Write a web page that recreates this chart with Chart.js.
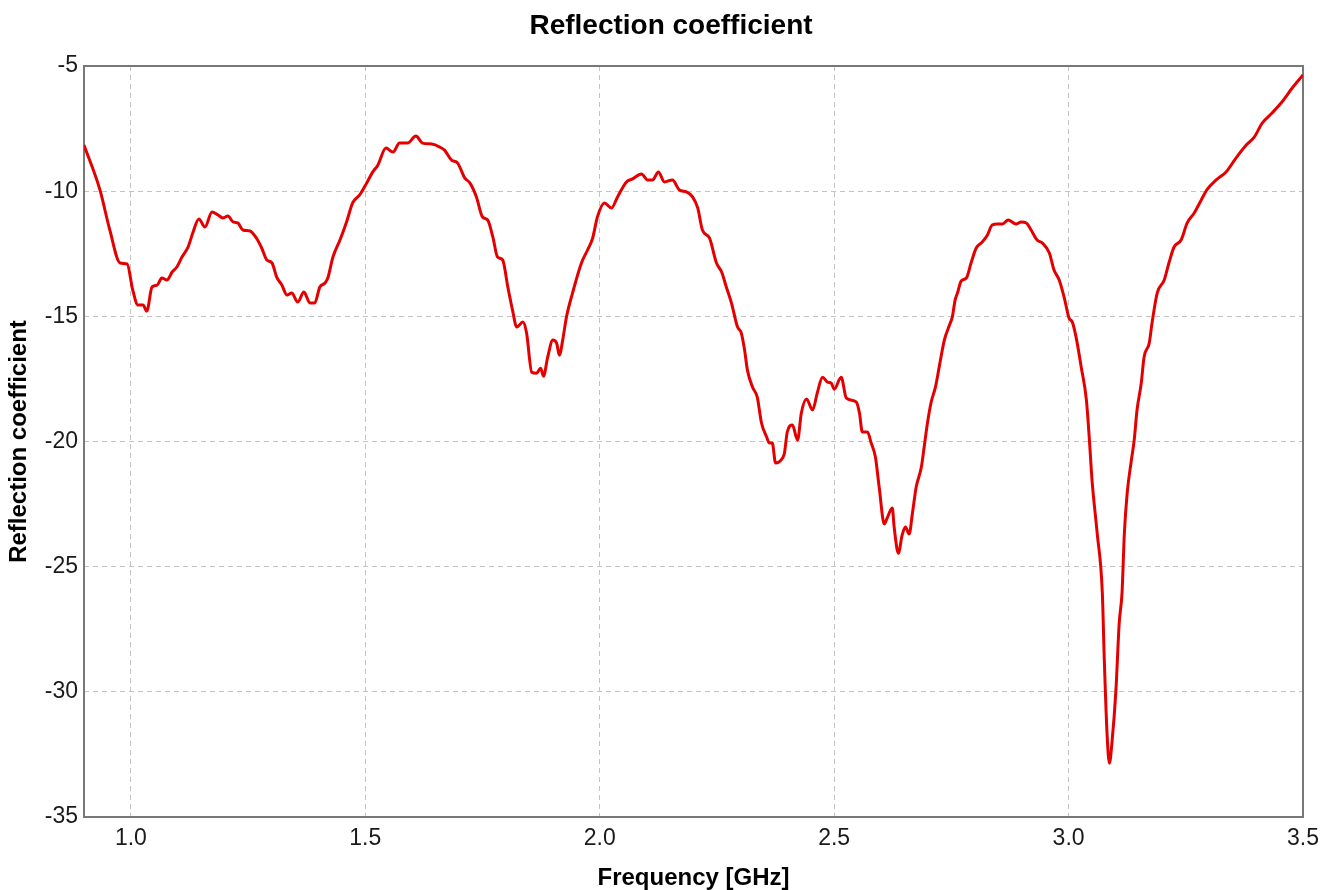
<!DOCTYPE html>
<html>
<head>
<meta charset="utf-8">
<script src="https://cdn.jsdelivr.net/npm/chart.js@4/dist/chart.umd.min.js"></script>
<style>
  html, body { margin: 0; padding: 0; background: #ffffff; }
  #wrap { width: 1324px; height: 890px; position: relative; }
</style>
</head>
<body>
<div id="wrap"><canvas id="c"></canvas></div>
<script>
// ---- Data ----
const freqGHz = [
  0.900, 0.934, 0.955, 0.977, 0.992, 1.004, 1.015, 1.026, 1.034, 1.045,
  1.056, 1.066, 1.077, 1.088, 1.098, 1.109, 1.122, 1.132, 1.145, 1.158,
  1.173, 1.186, 1.196, 1.207, 1.218, 1.228, 1.239, 1.254, 1.269, 1.279,
  1.290, 1.301, 1.311, 1.322, 1.333, 1.343, 1.356, 1.369, 1.382, 1.392,
  1.403, 1.414, 1.420, 1.431, 1.446, 1.460, 1.473, 1.488, 1.503, 1.516,
  1.527, 1.544, 1.559, 1.573, 1.590, 1.608, 1.622, 1.642, 1.659, 1.669,
  1.684, 1.697, 1.712, 1.723, 1.737, 1.750, 1.761, 1.772, 1.782, 1.793,
  1.804, 1.814, 1.823, 1.836, 1.844, 1.855, 1.865, 1.874, 1.880, 1.889,
  1.900, 1.908, 1.914, 1.921, 1.929, 1.942, 1.961, 1.974, 1.985, 1.995,
  2.010, 2.025, 2.038, 2.057, 2.070, 2.089, 2.102, 2.113, 2.125, 2.138,
  2.155, 2.170, 2.185, 2.198, 2.209, 2.219, 2.234, 2.249, 2.260, 2.270,
  2.281, 2.294, 2.302, 2.309, 2.315, 2.326, 2.336, 2.345, 2.356, 2.362,
  2.368, 2.375, 2.390, 2.394, 2.400, 2.411, 2.419, 2.422, 2.430, 2.441,
  2.454, 2.464, 2.475, 2.486, 2.494, 2.500, 2.515, 2.526, 2.547, 2.554,
  2.560, 2.571, 2.579, 2.588, 2.596, 2.607, 2.613, 2.624, 2.628, 2.637,
  2.645, 2.652, 2.660, 2.667, 2.675, 2.686, 2.692, 2.699, 2.707, 2.716,
  2.724, 2.735, 2.746, 2.752, 2.758, 2.763, 2.771, 2.782, 2.792, 2.803,
  2.816, 2.827, 2.837, 2.848, 2.859, 2.871, 2.888, 2.899, 2.910, 2.920,
  2.933, 2.944, 2.959, 2.969, 2.980, 2.991, 3.001, 3.008, 3.016, 3.027,
  3.038, 3.044, 3.050, 3.061, 3.072, 3.076, 3.082, 3.087, 3.093, 3.101,
  3.108, 3.114, 3.119, 3.125, 3.134, 3.140, 3.146, 3.155, 3.161, 3.172,
  3.178, 3.189, 3.204, 3.214, 3.225, 3.240, 3.253, 3.268, 3.283, 3.295,
  3.315, 3.336, 3.357, 3.379, 3.396, 3.413, 3.434, 3.455, 3.477, 3.500
];
const reflectionDb = [
  -8.16, -9.95, -11.55, -12.87, -12.91, -13.95, -14.55, -14.55, -14.79, -13.83,
  -13.75, -13.47, -13.55, -13.23, -13.03, -12.63, -12.23, -11.67, -11.11, -11.43,
  -10.83, -10.95, -11.07, -10.99, -11.23, -11.27, -11.55, -11.59, -11.91, -12.27,
  -12.75, -12.87, -13.43, -13.75, -14.15, -14.07, -14.43, -14.03, -14.47, -14.47,
  -13.83, -13.67, -13.47, -12.63, -11.95, -11.23, -10.47, -10.15, -9.67, -9.23,
  -8.95, -8.28, -8.44, -8.08, -8.08, -7.80, -8.08, -8.12, -8.24, -8.36,
  -8.76, -8.88, -9.47, -9.67, -10.23, -11.03, -11.15, -11.83, -12.63, -12.75,
  -13.83, -14.75, -15.43, -15.23, -15.67, -17.23, -17.27, -17.07, -17.39, -16.63,
  -15.95, -16.07, -16.55, -15.95, -15.03, -14.07, -12.87, -12.35, -11.87, -11.03,
  -10.47, -10.67, -10.23, -9.63, -9.51, -9.31, -9.55, -9.55, -9.23, -9.63,
  -9.55, -9.95, -10.03, -10.23, -10.67, -11.55, -11.87, -12.87, -13.23, -13.83,
  -14.47, -15.43, -15.67, -16.35, -17.15, -17.83, -18.23, -19.26, -19.82, -20.06,
  -20.06, -20.86, -20.66, -20.46, -19.62, -19.34, -19.82, -19.94, -18.86, -18.30,
  -18.74, -18.06, -17.43, -17.63, -17.67, -17.91, -17.43, -18.27, -18.42, -18.86,
  -19.62, -19.62, -20.06, -20.62, -21.82, -23.30, -23.06, -22.66, -23.42, -24.46,
  -23.74, -23.42, -23.70, -22.86, -21.82, -21.02, -20.22, -19.26, -18.42, -17.83,
  -17.03, -15.95, -15.35, -15.03, -14.35, -14.07, -13.59, -13.47, -12.87, -12.27,
  -12.03, -11.75, -11.35, -11.31, -11.31, -11.15, -11.31, -11.23, -11.27, -11.55,
  -11.95, -12.07, -12.47, -13.15, -13.55, -14.27, -15.07, -15.23, -15.83, -17.03,
  -18.34, -19.82, -21.54, -23.66, -26.05, -28.61, -31.65, -32.85, -31.93, -29.93,
  -27.25, -26.05, -23.66, -22.06, -20.74, -19.94, -18.74, -17.67, -16.63, -16.07,
  -15.27, -14.07, -13.55, -12.87, -12.23, -11.95, -11.27, -10.87, -10.35, -9.95,
  -9.55, -9.23, -8.68, -8.16, -7.84, -7.28, -6.88, -6.44, -5.88, -5.36
];
const xTickValues = [1.0, 1.5, 2.0, 2.5, 3.0, 3.5];
const yTickValues = [-35, -30, -25, -20, -15, -10, -5];
const xRange = [0.9, 3.5];
const yRange = [-35, -5];
const chartTitle = 'Reflection coefficient';
const xAxisTitle = 'Frequency [GHz]';
const yAxisTitle = 'Reflection coefficient';

// ---- Chart ----
const FONT = '"Liberation Sans", Arial, Helvetica, sans-serif';
const points = freqGHz.map((f, i) => ({ x: f, y: reflectionDb[i] }));

const framePlugin = {
  id: 'frame',
  beforeDatasetsDraw(chart) {
    const { ctx, chartArea: a } = chart;
    ctx.save();
    ctx.strokeStyle = '#787878';
    ctx.lineWidth = 2;
    ctx.setLineDash([]);
    ctx.strokeRect(a.left, a.top, a.right - a.left, a.bottom - a.top);
    ctx.restore();
  }
};

// Chart title drawn as canvas text, centred where the reference puts it
const titlePlugin = {
  id: 'topTitle',
  afterDraw(chart) {
    const { ctx } = chart;
    ctx.save();
    ctx.fillStyle = '#000000';
    ctx.font = 'bold 28px ' + FONT;
    ctx.textAlign = 'center';
    ctx.textBaseline = 'middle';
    ctx.fillText(chartTitle, 671, 26);
    ctx.restore();
  }
};

new Chart(document.getElementById('c'), {
  type: 'line',
  data: {
    datasets: [{
      label: 'S11',
      data: points,
      borderColor: 'rgb(228,0,0)',
      borderWidth: 3,
      pointRadius: 0,
      fill: false,
      tension: 0.3,
      cubicInterpolationMode: 'monotone'
    }]
  },
  options: {
    responsive: true,
    maintainAspectRatio: false,
    animation: false,
    layout: { padding: { left: 0, right: 21, top: 66, bottom: 0 } },
    plugins: {
      legend: { display: false },
      tooltip: { enabled: false },
      title: { display: false }
    },
    scales: {
      x: {
        type: 'linear',
        min: xRange[0],
        max: xRange[1],
        afterBuildTicks: s => { s.ticks = xTickValues.map(v => ({ value: v })); },
        afterFit: s => { s.height = 73; s.paddingLeft = 0; s.paddingRight = 0; },
        ticks: {
          color: '#1a1a1a',
          padding: 8,
          maxRotation: 0,
          font: { family: FONT, size: 23 },
          callback: v => Number(v).toFixed(1)
        },
        grid: { color: '#c4c4c4', lineWidth: 1, drawTicks: false },
        border: { display: false, dash: [5, 4] },
        title: {
          display: true,
          text: xAxisTitle,
          color: '#000000',
          font: { family: FONT, size: 24, weight: 'bold', lineHeight: 1 },
          padding: { top: 0, bottom: 0 }
        }
      },
      y: {
        type: 'linear',
        min: yRange[0],
        max: yRange[1],
        afterBuildTicks: s => { s.ticks = yTickValues.map(v => ({ value: v })); },
        afterFit: s => { s.width = 84; s.paddingTop = 0; s.paddingBottom = 0; },
        ticks: {
          color: '#1a1a1a',
          padding: 6,
          font: { family: FONT, size: 23 }
        },
        grid: { color: '#c4c4c4', lineWidth: 1, drawTicks: false },
        border: { display: false, dash: [5, 4] },
        title: {
          display: true,
          text: yAxisTitle,
          color: '#000000',
          font: { family: FONT, size: 24, weight: 'bold', lineHeight: 1 },
          padding: { top: 7, bottom: 0 }
        }
      }
    }
  },
  plugins: [framePlugin, titlePlugin]
});
</script>
</body>
</html>
